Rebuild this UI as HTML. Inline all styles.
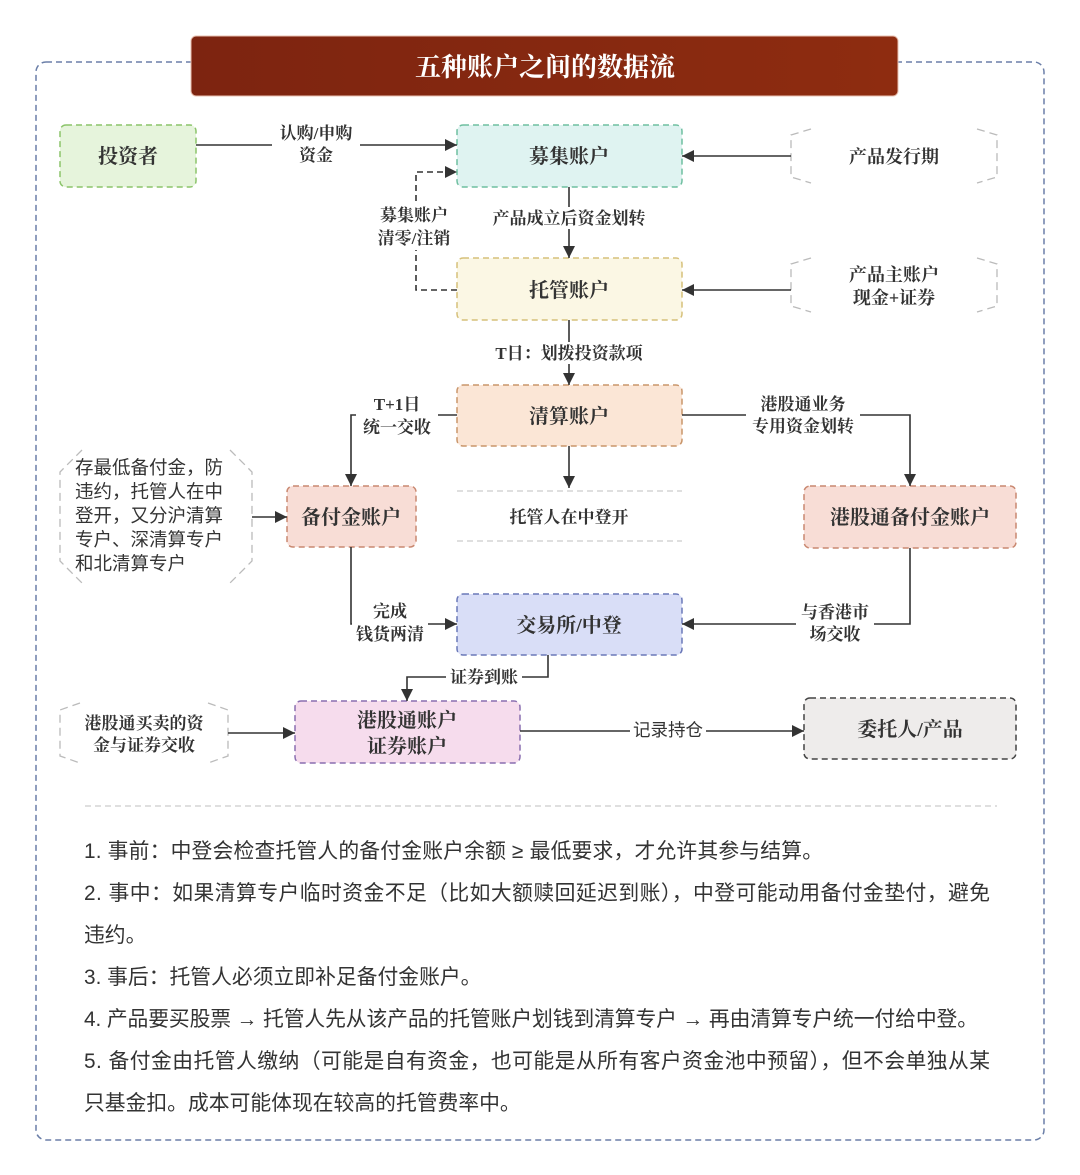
<!DOCTYPE html>
<html><head><meta charset="utf-8"><style>
html,body{margin:0;padding:0;background:#fff;}
svg{display:block;}
.s{font-family:"Liberation Serif","Noto Serif CJK SC",serif;font-weight:bold;fill:#333;}
.n{font-size:20px;}
.l{font-size:16px;}
.t{font-family:"Liberation Sans","Noto Sans CJK SC",sans-serif;font-size:20.8px;fill:#333;}
.ln{stroke:#333;stroke-width:1.6;fill:none;}
.hx{stroke:#bbb;stroke-width:1.3;stroke-dasharray:8 5;fill:none;}
</style></head><body>
<svg width="1080" height="1175" viewBox="0 0 1080 1175" xmlns="http://www.w3.org/2000/svg">
<defs>
<marker id="a" viewBox="0 0 10 10" refX="10" refY="5" markerWidth="12" markerHeight="12" markerUnits="userSpaceOnUse" orient="auto"><path d="M0,0L10,5L0,10z" fill="#333"/></marker>
<linearGradient id="g" x1="0" x2="1"><stop offset="0" stop-color="#7d2410"/><stop offset="1" stop-color="#8e2c10"/></linearGradient>
</defs>
<rect x="36" y="62" width="1008" height="1078" rx="10" fill="none" stroke="#6b7fa8" stroke-width="1.5" stroke-dasharray="6 4"/>
<rect x="191" y="36" width="707" height="60" rx="5" fill="url(#g)" stroke="#e8c0b0" stroke-width="1"/>
<text x="545" y="76" text-anchor="middle" class="s" style="font-size:26px;fill:#fff">五种账户之间的数据流</text>

<g stroke-dasharray="6 4" stroke-width="1.5">
<rect x="60" y="125" width="136" height="62" rx="6" fill="#e6f4dc" stroke="#8bc46a"/>
<rect x="457" y="125" width="225" height="62" rx="6" fill="#dff3f1" stroke="#6fbfa0"/>
<rect x="457" y="258" width="225" height="62" rx="6" fill="#fbf7e4" stroke="#d6c07a"/>
<rect x="457" y="385" width="225" height="61" rx="6" fill="#fbe6d6" stroke="#c9956a"/>
<rect x="287" y="486" width="129" height="61" rx="6" fill="#f8ddd6" stroke="#c98870"/>
<rect x="804" y="486" width="212" height="62" rx="6" fill="#f8ddd6" stroke="#c98870"/>
<rect x="457" y="594" width="225" height="61" rx="6" fill="#d9def7" stroke="#6a78b8"/>
<rect x="295" y="701" width="225" height="62" rx="6" fill="#f6dced" stroke="#8a6fb0"/>
<rect x="804" y="698" width="212" height="61" rx="6" fill="#eeeceb" stroke="#444"/>
</g>
<text x="128" y="163" text-anchor="middle" class="s n">投资者</text>
<text x="569" y="163" text-anchor="middle" class="s n">募集账户</text>
<text x="569" y="297" text-anchor="middle" class="s n">托管账户</text>
<text x="569" y="423" text-anchor="middle" class="s n">清算账户</text>
<text x="351" y="524" text-anchor="middle" class="s n">备付金账户</text>
<text x="910" y="524" text-anchor="middle" class="s n">港股通备付金账户</text>
<text x="569" y="632" text-anchor="middle" class="s n">交易所/中登</text>
<text x="407" y="727" text-anchor="middle" class="s n">港股通账户</text>
<text x="407" y="753" text-anchor="middle" class="s n">证券账户</text>
<text x="910" y="736" text-anchor="middle" class="s n">委托人/产品</text>

<path class="hx" d="M811,129L791,135L791,177L811,183M977,129L997,135L997,177L977,183"/>
<path class="hx" d="M811,258L791,264L791,306L811,312M977,258L997,264L997,306L977,312"/>
<path class="hx" d="M82,450L60,472L60,561L82,583M230,450L252,472L252,561L230,583"/>
<path class="hx" d="M80,703L60,710L60,756L80,763M208,703L228,710L228,756L208,763"/>
<text x="894" y="163" text-anchor="middle" class="s" style="font-size:18px">产品发行期</text>
<text x="894" y="281" text-anchor="middle" class="s" style="font-size:18px">产品主账户</text>
<text x="894" y="304" text-anchor="middle" class="s" style="font-size:18px">现金+证券</text>
<g class="t" style="font-size:18.5px">
<text x="75" y="474">存最低备付金，防</text>
<text x="75" y="498">违约，托管人在中</text>
<text x="75" y="522">登开，又分沪清算</text>
<text x="75" y="546">专户、深清算专户</text>
<text x="75" y="570">和北清算专户</text>
</g>
<text x="144" y="729" text-anchor="middle" class="s" style="font-size:17px">港股通买卖的资</text>
<text x="144" y="751" text-anchor="middle" class="s" style="font-size:17px">金与证券交收</text>

<path d="M457,491H682M457,541H682" stroke="#ccc" stroke-width="1.3" stroke-dasharray="6 4"/>
<text x="569" y="523" text-anchor="middle" class="s" style="font-size:17px">托管人在中登开</text>

<path class="ln" d="M196,145H457" marker-end="url(#a)"/>
<rect x="272" y="122" width="88" height="44" fill="#fff"/>
<text x="316" y="139" text-anchor="middle" class="s" style="font-size:17px">认购/申购</text>
<text x="316" y="161" text-anchor="middle" class="s" style="font-size:17px">资金</text>

<path class="ln" d="M457,290H416V172H457" stroke-dasharray="6 4" marker-end="url(#a)"/>
<rect x="372" y="202" width="84" height="48" fill="#fff"/>
<text x="414" y="221" text-anchor="middle" class="s" style="font-size:17px">募集账户</text>
<text x="414" y="244" text-anchor="middle" class="s" style="font-size:17px">清零/注销</text>

<path class="ln" d="M569,187V258" marker-end="url(#a)"/>
<rect x="484" y="207" width="170" height="22" fill="#fff"/>
<text x="569" y="224" text-anchor="middle" class="s" style="font-size:17px">产品成立后资金划转</text>

<path class="ln" d="M791,156H682" marker-end="url(#a)"/>
<path class="ln" d="M791,290H682" marker-end="url(#a)"/>

<path class="ln" d="M569,320V385" marker-end="url(#a)"/>
<rect x="486" y="342" width="166" height="22" fill="#fff"/>
<text x="569" y="359" text-anchor="middle" class="s" style="font-size:17px">T日：划拨投资款项</text>

<path class="ln" d="M457,415H351V486" marker-end="url(#a)"/>
<rect x="356" y="392" width="82" height="46" fill="#fff"/>
<text x="397" y="410" text-anchor="middle" class="s" style="font-size:17px">T+1日</text>
<text x="397" y="433" text-anchor="middle" class="s" style="font-size:17px">统一交收</text>

<path class="ln" d="M682,415H910V486" marker-end="url(#a)"/>
<rect x="746" y="392" width="114" height="46" fill="#fff"/>
<text x="803" y="410" text-anchor="middle" class="s" style="font-size:17px">港股通业务</text>
<text x="803" y="432" text-anchor="middle" class="s" style="font-size:17px">专用资金划转</text>

<path class="ln" d="M569,446V488" marker-end="url(#a)"/>
<path class="ln" d="M252,517H287" marker-end="url(#a)"/>

<path class="ln" d="M351,547V624H457" marker-end="url(#a)"/>
<rect x="352" y="600" width="76" height="46" fill="#fff"/>
<text x="390" y="617" text-anchor="middle" class="s" style="font-size:17px">完成</text>
<text x="390" y="640" text-anchor="middle" class="s" style="font-size:17px">钱货两清</text>

<path class="ln" d="M910,548V624H682" marker-end="url(#a)"/>
<rect x="796" y="600" width="78" height="46" fill="#fff"/>
<text x="835" y="618" text-anchor="middle" class="s" style="font-size:17px">与香港市</text>
<text x="835" y="640" text-anchor="middle" class="s" style="font-size:17px">场交收</text>

<path class="ln" d="M548,655V677H407V701" marker-end="url(#a)"/>
<rect x="446" y="667" width="76" height="20" fill="#fff"/>
<text x="484" y="683" text-anchor="middle" class="s" style="font-size:17px">证券到账</text>

<path class="ln" d="M228,733H295" marker-end="url(#a)"/>
<path class="ln" d="M520,731H804" marker-end="url(#a)"/>
<rect x="630" y="719" width="76" height="22" fill="#fff"/>
<text x="668" y="736" class="t" text-anchor="middle" style="font-size:17.5px">记录持仓</text>

<path d="M85,806H997" stroke="#ccc" stroke-width="1.3" stroke-dasharray="6 4"/>
<g class="t">
<text x="84" y="858" textLength="739" lengthAdjust="spacing">1. 事前：中登会检查托管人的备付金账户余额 ≥ 最低要求，才允许其参与结算。</text>
<text x="84" y="900" textLength="906" lengthAdjust="spacing">2. 事中：如果清算专户临时资金不足（比如大额赎回延迟到账），中登可能动用备付金垫付，避免</text>
<text x="84" y="942">违约。</text>
<text x="84" y="984">3. 事后：托管人必须立即补足备付金账户。</text>
<text x="84" y="1026" textLength="894" lengthAdjust="spacing">4. 产品要买股票 → 托管人先从该产品的托管账户划钱到清算专户 → 再由清算专户统一付给中登。</text>
<text x="84" y="1068" textLength="906" lengthAdjust="spacing">5. 备付金由托管人缴纳（可能是自有资金，也可能是从所有客户资金池中预留），但不会单独从某</text>
<text x="84" y="1110">只基金扣。成本可能体现在较高的托管费率中。</text>
</g>
</svg>
</body></html>
